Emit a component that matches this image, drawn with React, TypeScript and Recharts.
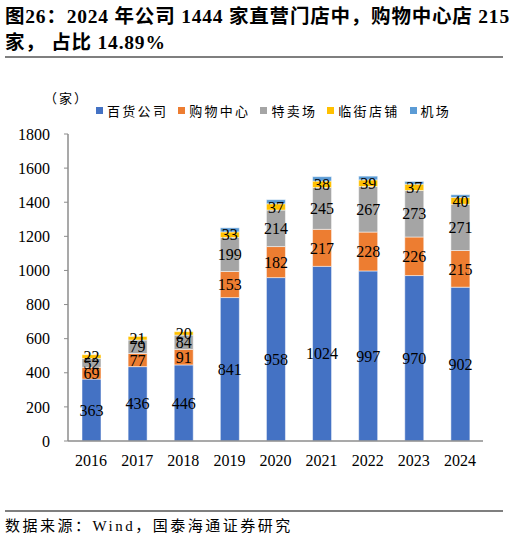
import React from "react"
import { BarChart, Bar, XAxis, YAxis, LabelList } from "recharts"

// store counts by channel
const years = ["2016", "2017", "2018", "2019", "2020", "2021", "2022", "2023", "2024"]
const deptStore = [363, 436, 446, 841, 958, 1024, 997, 970, 902]
const mall = [69, 77, 91, 153, 182, 217, 228, 226, 215]
const outlet = [52, 79, 84, 199, 214, 245, 267, 273, 271]
const street = [22, 21, 20, 33, 37, 38, 39, 37, 40]
const airport = [0, 0, 0, 24, 24, 26, 22, 16, 16]
const yTicks = [0, 200, 400, 600, 800, 1000, 1200, 1400, 1600, 1800]

const SERIES = [
  { key: "dept", name: "百货公司", color: "#4472C4", label: true },
  { key: "mall", name: "购物中心", color: "#ED7D31", label: true },
  { key: "outlet", name: "特卖场", color: "#A5A5A5", label: true },
  { key: "street", name: "临街店铺", color: "#FFC000", label: true },
  { key: "airport", name: "机场", color: "#5B9BD5", label: false },
]

const data = years.map((y, i) => ({
  year: y,
  dept: deptStore[i],
  mall: mall[i],
  outlet: outlet[i],
  street: street[i],
  airport: airport[i],
}))

// boundary positions for the between-category tick marks
const boundaryTicks = [...years.map((_, i) => i), years.length]

const SERIF = '"Times New Roman", "Liberation Serif", "Noto Sans CJK SC", serif'
const AXIS = "#8c8c8c"

export default function App() {
  return (
    <div
      style={{
        position: "absolute",
        left: 0,
        top: 0,
        width: 510,
        height: 538,
        background: "#fff",
        fontFamily: SERIF,
        color: "#000",
        overflow: "hidden",
      }}
    >
      <div
        style={{
          position: "absolute",
          left: 5,
          top: 4,
          fontSize: 19.5,
          fontWeight: "bold",
          whiteSpace: "nowrap",
          lineHeight: "26px",
          letterSpacing: 0.8,
        }}
      >
        <div>图26：2024 年公司 1444 家直营门店中，购物中心店 215</div>
        <div>家， 占比 14.89%</div>
      </div>
      <div style={{ position: "absolute", left: 5, top: 56, width: 498, height: 2, background: "#7f7f7f" }} />

      <div style={{ position: "absolute", left: 44, top: 88, fontSize: 13, letterSpacing: 2 }}>（家）</div>

      <div
        style={{
          position: "absolute",
          left: 96,
          top: 101,
          display: "flex",
          fontSize: 13,
          letterSpacing: 2.3,
          whiteSpace: "nowrap",
        }}
      >
        {SERIES.map((s) => (
          <div key={s.key} style={{ display: "flex", alignItems: "center", marginRight: 10 }}>
            <span style={{ width: 7, height: 7, background: s.color, marginRight: 4, display: "inline-block" }} />
            <span>{s.name}</span>
          </div>
        ))}
      </div>

      <div style={{ position: "absolute", left: 0, top: 0 }}>
        <BarChart
          width={510}
          height={538}
          data={data}
          margin={{ top: 134, right: 27, bottom: 67, left: 0 }}
          barSize={19}
        >
          <XAxis
            xAxisId="grid"
            type="number"
            domain={[0, years.length]}
            ticks={boundaryTicks}
            height={0}
            tick={false}
            tickSize={-5}
            axisLine={false}
            tickLine={{ stroke: AXIS }}
          />
          <XAxis
            xAxisId="cat"
            dataKey="year"
            height={30}
            tickLine={false}
            tickSize={0}
            tickMargin={14}
            axisLine={{ stroke: AXIS, strokeWidth: 1.5 }}
            tick={{ fontSize: 16, fill: "#000", fontFamily: SERIF }}
          />
          <YAxis
            width={68}
            domain={[0, 1800]}
            ticks={yTicks}
            interval={0}
            tickSize={4}
            tickMargin={14}
            axisLine={{ stroke: AXIS, strokeWidth: 1.5 }}
            tickLine={{ stroke: AXIS }}
            tick={{ fontSize: 16, fill: "#000", fontFamily: SERIF }}
          />
          {SERIES.map((s) => (
            <Bar
              key={s.key}
              xAxisId="cat"
              dataKey={s.key}
              name={s.name}
              stackId="a"
              fill={s.color}
              stroke="#fff"
              strokeWidth={0.5}
              isAnimationActive={false}
            >
              {s.label && (
                <LabelList dataKey={s.key} position="center" fill="#000" fontSize={16} fontFamily={SERIF} />
              )}
            </Bar>
          ))}
        </BarChart>
      </div>

      <div style={{ position: "absolute", left: 5, top: 510, width: 498, height: 1.5, background: "#7f7f7f" }} />
      <div style={{ position: "absolute", left: 5, top: 514, fontSize: 15, whiteSpace: "nowrap", letterSpacing: 2.5 }}>
        数据来源：Wind，国泰海通证券研究
      </div>
    </div>
  )
}
